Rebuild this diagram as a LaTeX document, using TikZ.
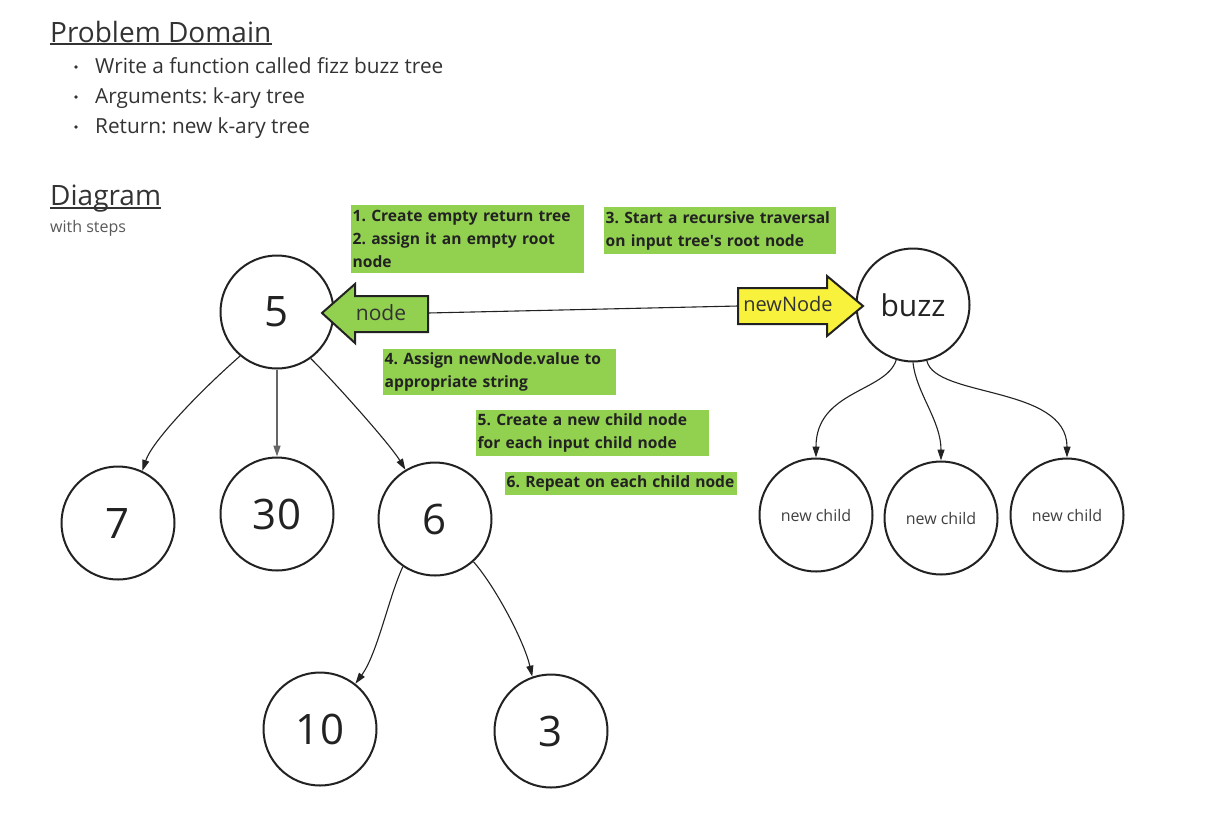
\documentclass[tikz,border=0pt]{standalone}
\usepackage{fontspec}
\setmainfont{Open Sans}
\usetikzlibrary{arrows.meta}
\definecolor{boxgreen}{HTML}{92D050}
\definecolor{arrowyellow}{HTML}{F8F23C}
\definecolor{inkdark}{HTML}{222222}
\frenchspacing
\begin{document}
\begin{tikzpicture}[x=1pt,y=-1pt,
  circ/.style={circle, draw=inkdark, line width=2pt, minimum size=113pt, inner sep=0pt,
    font=\fontsize{42}{42}\selectfont, text=inkdark},
  smallcirc/.style={circ, font=\fontsize{16}{16}\selectfont, text=black!75},
  gbox/.style={fill=boxgreen, anchor=north west, align=left, inner xsep=1.5pt, inner ysep=0pt,
    font=\bfseries\fontsize{15.6}{23}\selectfont, text=inkdark},
  conn/.style={line width=1.1pt, draw=inkdark, -{Triangle[length=11pt,width=7pt]}},
  heading/.style={anchor=base west, inner sep=0pt, font=\fontsize{28}{28}\selectfont, text=black!80},
  bullettext/.style={anchor=base west, inner sep=0pt, font=\fontsize{20.8}{20.8}\selectfont, text=black!80},
  blockarrow/.style={line width=2pt, draw=inkdark, line join=miter}
]
\useasboundingbox (0,0) rectangle (1218,820);
\fill[white] (0,0) rectangle (1218,820);

% headings
\node[heading] (pd) at (50,42) {Problem Domain};
\draw[line width=1.4pt, black!80] ([yshift=-2pt]pd.base west) -- ([yshift=-2pt]pd.base east);
\foreach \yy/\tt [count=\i] in {73/{Write a function called fizz buzz tree},103/{Arguments: k-ary tree},133/{Return: new k-ary tree}}{
  \fill[black!80] (76,\yy-6) circle (1.8pt);
  \node[bullettext] (b\i) at (95,\yy) {\tt};
}
\node[heading] (dg) at (50,205) {Diagram};
\draw[line width=1.4pt, black!80] ([yshift=-3pt]dg.base west) -- ([yshift=-3pt]dg.base east);
\node[anchor=base west, inner sep=0pt, font=\fontsize{16}{16}\selectfont, text=black!65] (ws) at (50,232) {with steps};

% green step boxes
\node[gbox, minimum width=233pt, minimum height=68pt, text width=230pt] (s1) at (351,205)
  {\mbox{1. Create empty return tree}\\\mbox{2. assign it an empty root}\\node};
\node[gbox, minimum width=232pt, minimum height=47pt, text width=229pt] (s3) at (604,207)
  {\mbox{3. Start a recursive traversal}\\\mbox{on input tree\textquotesingle s root node}};
\node[gbox, minimum width=233pt, minimum height=46pt, text width=230pt] (s4) at (383,349)
  {\mbox{4. Assign newNode.value to}\\\mbox{appropriate string}};
\node[gbox, minimum width=233pt, minimum height=46pt, text width=230pt] (s5) at (476,410)
  {\mbox{5. Create a new child node}\\\mbox{for each input child node}};
\node[gbox, minimum width=232pt, minimum height=23pt, text width=229pt] (s6) at (505,472)
  {\mbox{6. Repeat on each child node}};

% input tree
\node[circ] (n5) at (277,312) {5};
\node[circ] (n7) at (118,523) {7};
\node[circ] (n30) at (277,514) {30};
\node[circ] (n6) at (435,519) {6};
\node[circ] (n10) at (320,729) {10};
\node[circ] (n3) at (551,731) {3};

% output tree
\node[circ, font=\fontsize{30}{30}\selectfont] (nb) at (913,305) {buzz};
\node[smallcirc] (c1) at (816,515) {new child};
\node[smallcirc] (c2) at (941,518) {new child};
\node[smallcirc] (c3) at (1067,515) {new child};

% block arrows
\draw[blockarrow, fill=boxgreen] (322,313) -- (355,284) -- (355,296) -- (428,296) -- (428,332) -- (355,332) -- (355,343) -- cycle;
\node[inner sep=0pt, font=\fontsize{21}{21}\selectfont, text=black!80] (nl) at (381,313) {node};
\coordinate (ga) at (428,313);
\draw[blockarrow, fill=arrowyellow] (738,288) -- (827,288) -- (827,276) -- (863,306) -- (827,336) -- (827,324) -- (738,324) -- cycle;
\node[inner sep=0pt, font=\fontsize{20}{20}\selectfont, text=black!80] (yl) at (788,304) {newNode};
\coordinate (ya) at (738,306);
\draw[line width=1.1pt, inkdark] (ga) -- (ya);

% connectors, input tree
\draw[conn] (n5.-130) .. controls +(-40,35) and +(10,-30) .. (n7.65);
\draw[conn, draw=black!60, line width=1.6pt] (n5.-90) -- (n30.90);
\draw[conn] (n5.-54) .. controls +(25,25) and +(-15,-25) .. (n6.121);
\draw[conn] (n6.-124) .. controls +(-14,30) and +(22,-30) .. (n10.52);
\draw[conn] (n6.-48) .. controls +(22,25) and +(-8,-35) .. (n3.109);

% connectors, output tree
\draw[conn] (nb.-107) .. controls +(-10,32) and +(0,-67) .. (c1.90);
\draw[conn] (nb.-90) .. controls +(3,30) and +(0,-40) .. (c2.90);
\draw[conn] (nb.-76) .. controls +(8,37) and +(0,-72) .. (c3.90);
\end{tikzpicture}
\end{document}
